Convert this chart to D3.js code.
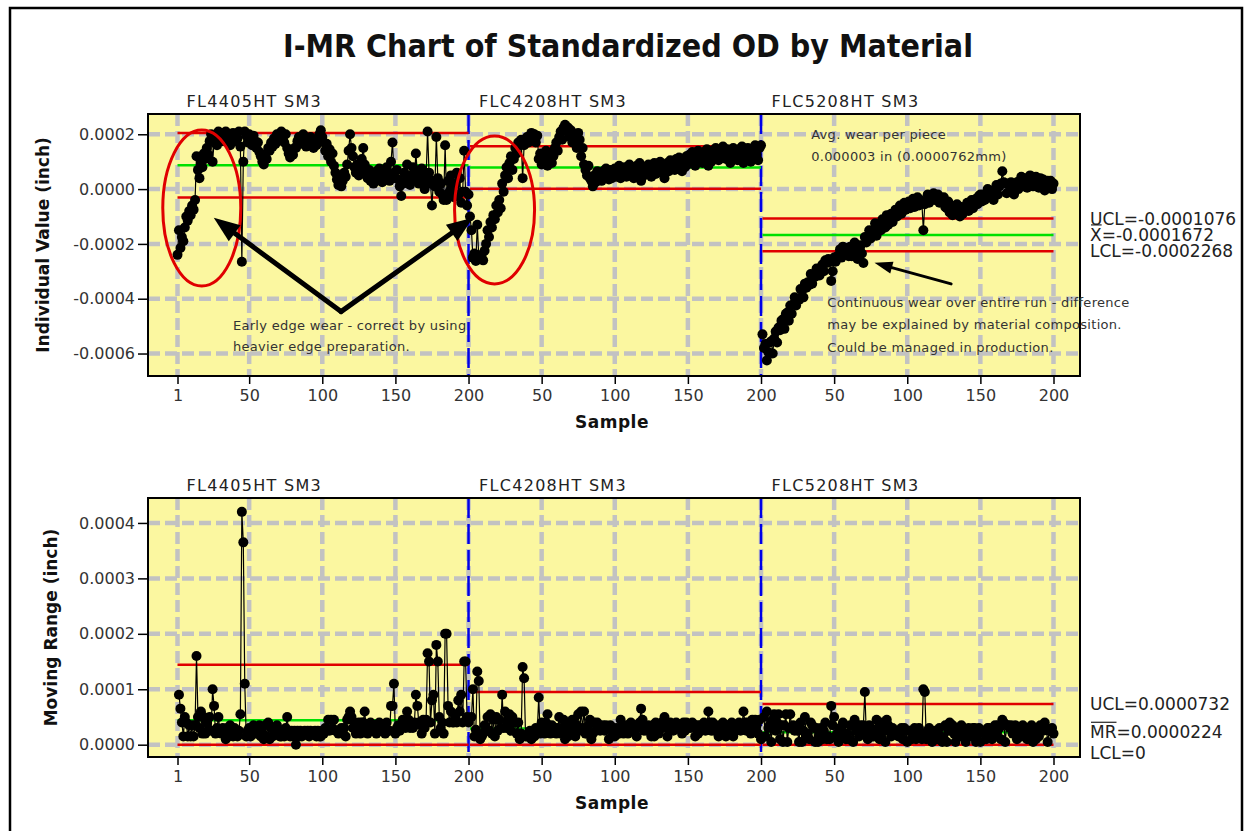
<!DOCTYPE html>
<html>
<head>
<meta charset="utf-8">
<title>I-MR Chart of Standardized OD by Material</title>
<script src="https://cdn.jsdelivr.net/npm/d3@7"></script>
<style>
  body { margin: 0; background: #fff; }
  svg { display: block; font-family: "DejaVu Sans", Verdana, sans-serif; }
</style>
</head>
<body>
<svg id="chart" width="1250" height="831"></svg>
<script>
// ---- data (individual OD values in inch x 1e-6) ----
var segmentNames = ["FL4405HT SM3", "FLC4208HT SM3", "FLC5208HT SM3"];

var odFL4405 = [
  -240, -150, -215, -175, -190, -140, -100, -115, -80, -95,
  -60, -75, -40, 120, 70, 40, 100, 80, 130, 110,
  150, 125, 175, 200, 100, 170, 190, 160, 210, 185,
  205, 175, 200, 210, 180, 195, 160, 190, 205, 175,
  200, 185, 210, 155, -265, 100, 210, 195, 170, 200,
  185, 160, 195, 175, 150, 170, 135, 120, 100, 90,
  125, 110, 150, 140, 170, 155, 185, 165, 200, 180,
  195, 210, 185, 170, 200, 150, 130, 115, 140, 125,
  150, 150, 175, 190, 165, 180, 200, 175, 155, 180,
  165, 190, 170, 150, 175, 160, 185, 200, 215, 190,
  170, 140, 165, 120, 145, 100, 130, 85, 60, 35,
  15, 40, 10, 30, 60, 45, 90, 140, 200, 150,
  120, 80, 60, 90, 50, 70, 110, 150, 90, 60,
  40, 70, 30, 55, 20, 45, 65, 35, 75, 50,
  25, 60, 40, 80, 55, 30, 100, 170, 60, 40,
  70, 35, 10, -25, 20, 60, 30, 90, 45, 15,
  50, 80, 40, 130, 60, 20, 55, 75, 30, 0,
  45, 210, 60, 20, -60, 30, 10, 190, 40, -10,
  20, -20, -40, 160, -40, 30, -10, 50, 10, -30,
  20, 60, -20, 40, -50, -10, 140, -10, -60, -20
];

var odFLC4208 = [
  -100, -150, -250, -235, -262, -130, -245, -255, -240, -260,
  -225, -200, -150, -175, -120, -140, -95, -110, -60, -85,
  -40, -70, 20, -10, 50, 80, 40, 95, 120, 70,
  110, 150, 130, 170, 160, 180, 40, 160, 175, 190,
  170, 195, 205, 185, 200, 170, 195, 110, 130, 90,
  120, 100, 140, 85, 110, 130, 95, 120, 150, 170,
  140, 190, 210, 180, 225, 235, 210, 225, 190, 215,
  170, 200, 185, 150, 205, 180, 120, 150, 90, 70,
  50, 85, 40, 30, 10, 50, 25, 65, 35, 60,
  30, 65, 40, 75, 45, 35, 70, 40, 60, 75,
  45, 65, 85, 40, 70, 50, 80, 45, 65, 90,
  50, 75, 40, 70, 85, 55, 95, 30, 75, 50,
  80, 55, 90, 60, 45, 80, 95, 55, 85, 65,
  100, 60, 90, 40, 80, 95, 65, 105, 75, 100,
  70, 110, 80, 115, 85, 65, 105, 80, 120, 90,
  125, 95, 135, 100, 85, 120, 140, 105, 130, 95,
  135, 110, 145, 85, 125, 100, 140, 115, 150, 120,
  105, 140, 115, 155, 125, 110, 145, 120, 95, 135,
  150, 115, 140, 105, 145, 120, 155, 95, 135, 110,
  150, 120, 100, 145, 115, 160, 125, 105, 150, 160
];

var odFLC5208 = [
  -530, -580, -565, -625, -595, -560, -555, -600, -545, -520,
  -560, -505, -515, -480, -475, -510, -455, -450, -480, -425,
  -455, -420, -395, -425, -400, -405, -365, -370, -395, -345,
  -360, -340, -350, -310, -345, -315, -320, -290, -295, -315,
  -285, -275, -300, -260, -270, -255, -265, -335, -300, -250,
  -265, -245, -250, -220, -250, -210, -225, -215, -235, -245,
  -210, -245, -240, -195, -220, -255, -240, -205, -235, -270,
  -175, -195, -185, -150, -180, -165, -150, -125, -170, -140,
  -130, -150, -110, -135, -140, -95, -130, -105, -90, -120,
  -95, -75, -100, -85, -60, -90, -80, -50, -75, -70,
  -45, -70, -60, -35, -65, -55, -30, -60, -40, -50,
  -150, -55, -45, -20, -50, -30, -35, -15, -40, -30,
  -20, -50, -35, -40, -30, -65, -70, -45, -85, -60,
  -95, -75, -80, -55, -85, -100, -65, -90, -75, -70,
  -50, -80, -55, -40, -70, -40, -35, -55, -25, -20,
  -45, -20, -40, -30, 0, -30, -5, -15, -40, -5,
  15, -20, 10, 20, 65, 25, 20, -15, 20, -10,
  25, 5, -20, 15, 25, 0, 30, 45, 10, 40,
  15, 5, 20, 50, 15, 10, 35, 45, 20, 5,
  40, 10, 35, -5, 25, 30, 5, 30, 0, 20
];

// control limits per material (inch)
var iUCL = [0.0002046, 0.0001564, -0.0001076];
var iCL = [0.0000870, 0.0000790, -0.0001672];
var iLCL = [-0.0000306, 0.0000016, -0.0002268];
var mrUCL = [0.0001444, 0.0000951, 0.0000732];
var mrCL = [0.0000442, 0.0000291, 0.0000224];
var mrLCL = [0, 0, 0];

// ticks
var xTickValues = [1, 50, 100, 150, 200, 250, 300, 350, 400, 450, 500, 550, 600];
var xTickLabels = ["1", "50", "100", "150", "200", "50", "100", "150", "200", "50", "100", "150", "200"];
var iTickValues = [0.0002, 0, -0.0002, -0.0004, -0.0006];
var iTickLabels = ["0.0002", "0.0000", "-0.0002", "-0.0004", "-0.0006"];
var mrTickValues = [0.0004, 0.0003, 0.0002, 0.0001, 0];
var mrTickLabels = ["0.0004", "0.0003", "0.0002", "0.0001", "0.0000"];

// ---- build rows: global sample index, value, moving range within each material ----
var series = [odFL4405, odFLC4208, odFLC5208];
var rows = series.map(function (arr, s) {
  return arr.map(function (v, i) {
    return {
      g: s * 200 + i + 1,
      v: v / 1e6,
      mr: i > 0 ? Math.abs(v - arr[i - 1]) / 1e6 : null
    };
  });
});

var svg = d3.select("#chart");
var plotLeft = 148, plotRight = 1080;
var yellow = "#FBF7A0", grid = "#C2C2C2";
var x = d3.scaleLinear().domain([1, 600]).range([177.5, 1053.5]);

function fmt(v) {
  return v === 0 ? "0" : d3.format(".7f")(v).replace("\u2212", "-");
}

// outer frame
svg.append("rect").attr("x", 10).attr("y", 8).attr("width", 1232).attr("height", 840)
  .attr("fill", "none").attr("stroke", "#000").attr("stroke-width", 2.5);

svg.append("text").attr("x", 628).attr("y", 57).attr("text-anchor", "middle")
  .attr("font-size", 32).attr("font-weight", "bold").attr("fill", "#111")
  .attr("textLength", 690).attr("lengthAdjust", "spacingAndGlyphs")
  .text("I-MR Chart of Standardized OD by Material");

function drawPanel(p) {
  var y = d3.scaleLinear().domain(p.domain).range([p.bottom, p.top]);
  var g = svg.append("g");

  g.append("rect").attr("x", plotLeft).attr("y", p.top)
    .attr("width", plotRight - plotLeft).attr("height", p.bottom - p.top).attr("fill", yellow);

  // dashed grid
  g.selectAll(".hg").data(p.ticks).join("line")
    .attr("x1", plotLeft).attr("x2", plotRight).attr("y1", y).attr("y2", y)
    .attr("stroke", grid).attr("stroke-width", 4.5).attr("stroke-dasharray", "12,5");
  g.selectAll(".vg").data(xTickValues).join("line")
    .attr("x1", x).attr("x2", x).attr("y1", p.top).attr("y2", p.bottom)
    .attr("stroke", grid).attr("stroke-width", 4.5).attr("stroke-dasharray", "12,5");

  // stage separators
  g.selectAll(".sep").data([200, 400]).join("line")
    .attr("x1", x).attr("x2", x).attr("y1", p.top).attr("y2", p.bottom)
    .attr("stroke", "#0000E8").attr("stroke-width", 2.5).attr("stroke-dasharray", "20,6");

  // control lines per material
  segmentNames.forEach(function (name, s) {
    var x0 = x(s * 200 + 1), x1 = x(s * 200 + 200);
    [[p.ucl[s], "#E00000"], [p.cl[s], "#00E000"], [p.lcl[s], "#E00000"]].forEach(function (c) {
      g.append("line").attr("x1", x0).attr("x2", x1).attr("y1", y(c[0])).attr("y2", y(c[0]))
        .attr("stroke", c[1]).attr("stroke-width", 2.5);
    });
  });

  // series
  rows.forEach(function (seg) {
    var pts = seg.filter(function (d) { return d[p.key] !== null; });
    g.append("path").datum(pts)
      .attr("d", d3.line().x(function (d) { return x(d.g); }).y(function (d) { return y(d[p.key]); }))
      .attr("fill", "none").attr("stroke", "#000").attr("stroke-width", 1.2);
    g.selectAll(null).data(pts).join("circle")
      .attr("cx", function (d) { return x(d.g); })
      .attr("cy", function (d) { return y(d[p.key]); })
      .attr("r", 5).attr("fill", "#000");
  });

  g.append("rect").attr("x", plotLeft).attr("y", p.top)
    .attr("width", plotRight - plotLeft).attr("height", p.bottom - p.top)
    .attr("fill", "none").attr("stroke", "#000").attr("stroke-width", 2);

  // axes
  var ay = g.append("g").attr("transform", "translate(" + plotLeft + ",0)")
    .call(d3.axisLeft(y).tickValues(p.ticks).tickSize(10).tickPadding(3)
      .tickFormat(function (d, i) { return p.tickLabels[i]; }));
  var ax = g.append("g").attr("transform", "translate(0," + p.bottom + ")")
    .call(d3.axisBottom(x).tickValues(xTickValues).tickSize(8).tickPadding(6)
      .tickFormat(function (d, i) { return xTickLabels[i]; }));
  [ay, ax].forEach(function (a) {
    a.select(".domain").remove();
    a.selectAll("line").attr("stroke", "#000").attr("stroke-width", 1.5);
    a.selectAll("text").attr("font-size", 16).attr("fill", "#333")
      .attr("font-family", "DejaVu Sans, Verdana, sans-serif");
  });

  g.append("text").attr("transform", "translate(" + p.labelX + "," + (p.top + p.bottom) / 2 + ") rotate(-90)")
    .attr("text-anchor", "middle").attr("dominant-baseline", "central")
    .attr("font-size", 17).attr("font-weight", "bold").attr("fill", "#111").text(p.label);
  g.append("text").attr("x", 612).attr("y", p.bottom + 52).attr("text-anchor", "middle")
    .attr("font-size", 17).attr("font-weight", "bold").attr("letter-spacing", 0.5)
    .attr("fill", "#111").text("Sample");

  // material labels
  g.selectAll(".seg").data(segmentNames).join("text")
    .attr("x", function (d, s) { return x(s * 200 + 1) + 9; })
    .attr("y", p.top - 7)
    .attr("font-size", 16).attr("letter-spacing", 1.3).attr("fill", "#222")
    .text(function (d) { return d; });

  // limit labels for the last material
  var last = 2;
  var lab = [
    ["UCL=", p.ucl[last], 0, ""],
    [p.clName + "=", p.cl[last], 0, p.clName],
    ["LCL=", p.lcl[last], p.lclShift, ""]
  ];
  lab.forEach(function (l) {
    var cy = y(l[1]) + l[2];
    var t = g.append("text").attr("x", 1090).attr("y", cy).attr("dominant-baseline", "central")
      .attr("font-size", 17).attr("fill", "#222").text(l[0] + fmt(l[1]));
    if (l[3]) {
      var w = t.node().getSubStringLength(0, l[3].length);
      g.append("line").attr("x1", 1091).attr("x2", 1090 + w).attr("y1", cy - 10).attr("y2", cy - 10)
        .attr("stroke", "#222").attr("stroke-width", 1.2);
    }
  });
  return y;
}

var yI = drawPanel({
  top: 114, bottom: 376, domain: [-0.000682, 0.000274], key: "v",
  ticks: iTickValues, tickLabels: iTickLabels,
  ucl: iUCL, cl: iCL, lcl: iLCL, clName: "X", lclShift: 0,
  label: "Individual Value (inch)", labelX: 43
});

drawPanel({
  top: 498, bottom: 757, domain: [-0.0000222, 0.000445], key: "mr",
  ticks: mrTickValues, tickLabels: mrTickLabels,
  ucl: mrUCL, cl: mrCL, lcl: mrLCL, clName: "MR", lclShift: 8,
  label: "Moving Range (inch)", labelX: 51
});

// ---- annotations on the individuals chart (placed in sample / value space) ----
var notes = svg.append("g");

function arrow(x1, y1, x2, y2, w, hl, hw) {
  var dx = x2 - x1, dy = y2 - y1, len = Math.sqrt(dx * dx + dy * dy);
  var ux = dx / len, uy = dy / len, bx = x2 - ux * hl, by = y2 - uy * hl;
  notes.append("line").attr("x1", x1).attr("y1", y1).attr("x2", bx).attr("y2", by)
    .attr("stroke", "#000").attr("stroke-width", w).attr("stroke-linecap", "round");
  notes.append("polygon")
    .attr("points", [[x2, y2], [bx - uy * hw / 2, by + ux * hw / 2], [bx + uy * hw / 2, by - ux * hw / 2]].join(" "))
    .attr("fill", "#000");
}

[[17.6, -0.000069, 39, 78], [217.8, -0.000076, 40, 74]].forEach(function (e) {
  notes.append("ellipse").attr("cx", x(e[0])).attr("cy", yI(e[1])).attr("rx", e[2]).attr("ry", e[3])
    .attr("fill", "none").attr("stroke", "#E00000").attr("stroke-width", 3);
});

var vx = x(112.8), vy = yI(-0.000447);
arrow(vx, vy, x(25.8), yI(-0.000105), 5, 26, 20);
arrow(vx, vy, x(203), yI(-0.000105), 5, 26, 20);
arrow(x(530), yI(-0.000346), x(477.6), yI(-0.000269), 3, 18, 12);

function noteText(g0, v0, gap, lines) {
  var t = notes.append("text").attr("x", x(g0)).attr("y", yI(v0))
    .attr("font-size", 13).attr("letter-spacing", 0.3).attr("fill", "#333");
  lines.forEach(function (s, i) {
    t.append("tspan").attr("x", x(g0)).attr("dy", i ? gap : 0).text(s);
  });
}
noteText(38.9, -0.000515, 21, ["Early edge wear  - correct by using", "heavier edge preparation."]);
noteText(434.3, 0.000183, 22, ["Avg. wear per piece", "0.000003 in (0.0000762mm)"]);
noteText(445.3, -0.000430, 22.5, ["Continuous wear over entire run - difference",
  "may be explained by material composition.", "Could be managed in production."]);
</script>
</body>
</html>
